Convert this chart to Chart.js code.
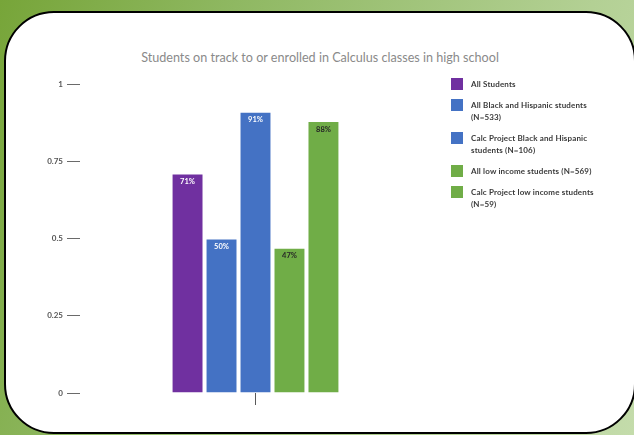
<!DOCTYPE html>
<html>
<head>
<meta charset="utf-8">
<script src="https://cdn.jsdelivr.net/npm/chart.js@4.4.1/dist/chart.umd.min.js"></script>
<style>
    html, body {
        margin: 0;
        padding: 0;
        width: 634px;
        height: 435px;
        overflow: hidden;
    }
    body {
        position: relative;
        background: linear-gradient(110deg, #77a539 0%, #8fb862 30%, #b3d094 75%, #c4dcab 100%);
        font-family: Lato, "Open Sans", sans-serif;
    }
    .card {
        position: absolute;
        left: 4px;
        top: 11px;
        width: 632px;
        height: 423px;
        box-sizing: border-box;
        border: 2px solid #000;
        border-radius: 50px;
        background: #fff;
    }
    .title {
        position: absolute;
        left: 0;
        top: 50px;
        width: 640px;
        text-align: center;
        font-size: 12.6px;
        line-height: 16px;
        color: #8a8a8a;
    }
    #chartBox {
        position: absolute;
        left: 0;
        top: 0;
        width: 634px;
        height: 435px;
    }
    #legend {
        position: absolute;
        left: 451px;
        top: 78px;
        margin: 0;
        padding: 0;
        list-style: none;
    }
    #legend li {
        display: flex;
        align-items: flex-start;
        margin-bottom: 9px;
    }
    #legend .box {
        width: 12px;
        height: 12px;
        flex: none;
    }
    #legend .text {
        margin-left: 8px;
        font-size: 8px;
        font-weight: bold;
        letter-spacing: 0.15px;
        line-height: 12px;
        color: #3a3a3a;
        white-space: pre-line;
    }
</style>
</head>
<body>
<div class="card"></div>
<div class="title">Students on track to or enrolled in Calculus classes in high school</div>
<div id="chartBox"><canvas id="calcChart"></canvas></div>
<ul id="legend"></ul>

<script>
// chart values
const categories = [''];
const seriesLabels = [
    'All Students',
    'All Black and Hispanic students\n(N=533)',
    'Calc Project Black and Hispanic\nstudents (N=106)',
    'All low income students (N=569)',
    'Calc Project low income students\n(N=59)'
];
const seriesValues = [0.71, 0.50, 0.91, 0.47, 0.88];
const yTickValues = [0, 0.25, 0.5, 0.75, 1];

const seriesColors = ['#7030a0', '#4472c4', '#4472c4', '#70ad47', '#70ad47'];
const valueLabelColors = ['#ffffff', '#ffffff', '#ffffff', '#262626', '#262626'];

// percent labels at the top of each bar
const valueLabels = {
    id: 'valueLabels',
    afterDatasetsDraw(chart) {
        const ctx = chart.ctx;
        ctx.save();
        ctx.font = 'bold 7.5px Lato, sans-serif';
        ctx.textAlign = 'center';
        ctx.textBaseline = 'middle';
        chart.data.datasets.forEach((ds, i) => {
            const meta = chart.getDatasetMeta(i);
            meta.data.forEach((bar, j) => {
                ctx.fillStyle = valueLabelColors[i];
                ctx.fillText(Math.round(ds.data[j] * 100) + '%', bar.x, bar.y + 8);
            });
        });
        ctx.restore();
    }
};

// legend built as html from the chart's datasets
const htmlLegend = {
    id: 'htmlLegend',
    afterUpdate(chart) {
        const list = document.getElementById('legend');
        list.innerHTML = '';
        chart.data.datasets.forEach(ds => {
            const li = document.createElement('li');
            const box = document.createElement('span');
            box.className = 'box';
            box.style.background = ds.backgroundColor;
            const text = document.createElement('span');
            text.className = 'text';
            text.textContent = ds.label;
            li.appendChild(box);
            li.appendChild(text);
            list.appendChild(li);
        });
    }
};

const ctx = document.getElementById('calcChart').getContext('2d');
new Chart(ctx, {
    type: 'bar',
    data: {
        labels: categories,
        datasets: seriesLabels.map((label, i) => ({
            label: label,
            data: [seriesValues[i]],
            backgroundColor: seriesColors[i],
            borderColor: 'rgba(255, 255, 255, 0.45)',
            borderWidth: 1,
            categoryPercentage: 0.484,
            barPercentage: 0.94
        }))
    },
    options: {
        responsive: true,
        maintainAspectRatio: false,
        animation: false,
        layout: {
            padding: { top: 84, right: 203, bottom: 0, left: 0 }
        },
        plugins: {
            legend: { display: false },
            title: { display: false },
            tooltip: { enabled: false }
        },
        scales: {
            x: {
                grid: {
                    drawOnChartArea: false,
                    offset: false,
                    tickLength: 12,
                    color: '#595959'
                },
                border: { display: false },
                ticks: { display: false },
                afterFit: s => { s.height = 42; }
            },
            y: {
                min: 0,
                max: 1,
                afterBuildTicks: s => { s.ticks = yTickValues.map(v => ({ value: v })); },
                ticks: {
                    padding: 4,
                    color: '#555555',
                    font: { family: 'Lato', size: 8, weight: 'bold' },
                    callback: v => String(v)
                },
                grid: {
                    drawOnChartArea: false,
                    tickLength: 13,
                    color: '#6a6a6a'
                },
                border: { display: false },
                afterFit: s => { s.width = 80; }
            }
        }
    },
    plugins: [valueLabels, htmlLegend]
});
</script>
</body>
</html>
